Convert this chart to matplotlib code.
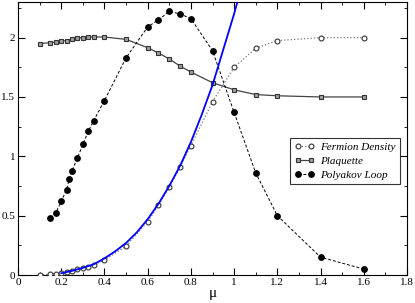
import matplotlib
matplotlib.use("Agg")
import matplotlib.pyplot as plt
from matplotlib.ticker import MultipleLocator, FuncFormatter

plt.rcParams['font.family'] = ['Liberation Serif', 'DejaVu Serif']

# Fermion density
fd_x = [0.1, 0.15, 0.175, 0.2, 0.225, 0.25, 0.275, 0.3, 0.325, 0.35, 0.4, 0.5,
        0.6, 0.65, 0.7, 0.75, 0.8, 0.9, 1.0, 1.1, 1.2, 1.4, 1.6]
fd_y = [0.0, 0.008, 0.01, 0.015, 0.025, 0.033, 0.05, 0.06, 0.07, 0.085, 0.125, 0.244,
        0.45, 0.587, 0.74, 0.91, 1.09, 1.46, 1.75, 1.91, 1.975, 2.0, 2.0]

# Plaquette
pl_x = [0.1, 0.15, 0.175, 0.2, 0.225, 0.25, 0.275, 0.3, 0.325, 0.35, 0.4, 0.5,
        0.6, 0.65, 0.7, 0.75, 0.8, 0.9, 1.0, 1.1, 1.2, 1.4, 1.6]
pl_y = [1.95, 1.957, 1.963, 1.97, 1.975, 1.99, 1.995, 2.0, 2.005, 2.005, 2.005, 1.985,
        1.915, 1.87, 1.82, 1.76, 1.71, 1.62, 1.56, 1.52, 1.51, 1.50, 1.50]

# Polyakov loop
po_x = [0.15, 0.175, 0.2, 0.225, 0.2375, 0.25, 0.275, 0.3, 0.325, 0.35, 0.4, 0.5,
        0.6, 0.65, 0.7, 0.75, 0.8, 0.9, 1.0, 1.1, 1.2, 1.4, 1.6]
po_y = [0.48, 0.525, 0.62, 0.72, 0.81, 0.88, 0.985, 1.10, 1.21, 1.30, 1.47, 1.83,
        2.09, 2.15, 2.22, 2.20, 2.16, 1.89, 1.37, 0.86, 0.50, 0.15, 0.05]

# Blue curve
bl_x = [0.2, 0.25, 0.3, 0.35, 0.4, 0.45, 0.5, 0.55, 0.6, 0.65, 0.7, 0.75, 0.8,
        0.85, 0.9, 0.95, 1.0, 1.015]
bl_y = [0.015, 0.035, 0.06, 0.09, 0.14, 0.2, 0.27, 0.36, 0.47, 0.6, 0.75, 0.92, 1.12,
        1.35, 1.6, 1.9, 2.2, 2.3]

fig = plt.figure(figsize=(4.15, 3.03), dpi=100)
ax = fig.add_axes([0.0434, 0.0924, 0.9373, 0.901])

ax.plot(bl_x, bl_y, '-', color='#0000ff', lw=1.3, zorder=4)
ax.plot(fd_x, fd_y, ':', color='#777777', lw=0.9, marker='o', ms=3.5,
        mfc='white', mec='#333333', mew=0.8, label='Fermion Density', zorder=3)
ax.plot(pl_x, pl_y, '-', color='#444444', lw=0.9, marker='s', ms=3.5,
        mfc='#a0a0a0', mec='#333333', mew=0.8, label='Plaquette', zorder=3)
ax.plot(po_x, po_y, '--', color='black', lw=0.7, dashes=(3, 2), marker='o', ms=3.9,
        mfc='black', mec='black', label='Polyakov Loop', zorder=3)

ax.set_xlim(0, 1.8)
ax.set_ylim(0, 2.3)
ax.xaxis.set_major_locator(MultipleLocator(0.2))
ax.xaxis.set_minor_locator(MultipleLocator(0.1))
ax.yaxis.set_major_locator(MultipleLocator(0.5))
ax.yaxis.set_minor_locator(MultipleLocator(0.25))
ax.tick_params(which='both', direction='in', top=True, right=True, labelsize=8, pad=2)
ax.tick_params(which='major', length=5)
ax.tick_params(which='minor', length=2.5)

def fmt(v, pos):
    s = ('%.1f' % v)
    if s.endswith('.0'):
        s = s[:-2]
    return s
ax.xaxis.set_major_formatter(FuncFormatter(fmt))
ax.yaxis.set_major_formatter(FuncFormatter(fmt))

ax.set_xlabel('μ', fontsize=11, labelpad=0)

leg = ax.legend(loc='upper left', bbox_to_anchor=(0.699, 0.502),
                prop={'style': 'italic', 'size': 8}, frameon=True, fancybox=False,
                edgecolor='black', handlelength=1.8, numpoints=2,
                borderpad=0.4, labelspacing=0.35, handletextpad=0.5,
                borderaxespad=0.0)
leg.get_frame().set_linewidth(0.8)

fig.savefig('out.png', dpi=100)
